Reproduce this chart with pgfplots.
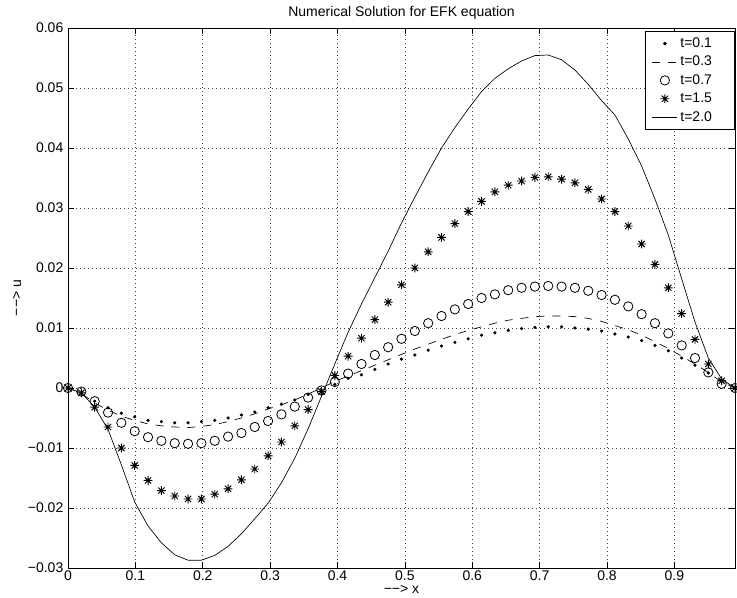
\documentclass[border=0pt]{standalone}
\usepackage{fontspec}
\setmainfont{Liberation Sans}
\usepackage{pgfplots}
\pgfplotsset{compat=1.18}
\usepackage{pgfplotstable}

\pgfdeclareplotmark{mstar}{%
 \pgfpathmoveto{\pgfqpoint{-\pgfplotmarksize}{0pt}}\pgfpathlineto{\pgfqpoint{\pgfplotmarksize}{0pt}}%
 \pgfpathmoveto{\pgfqpoint{0pt}{-\pgfplotmarksize}}\pgfpathlineto{\pgfqpoint{0pt}{\pgfplotmarksize}}%
 \pgfpathmoveto{\pgfqpoint{-0.7071\pgfplotmarksize}{-0.7071\pgfplotmarksize}}\pgfpathlineto{\pgfqpoint{0.7071\pgfplotmarksize}{0.7071\pgfplotmarksize}}%
 \pgfpathmoveto{\pgfqpoint{-0.7071\pgfplotmarksize}{0.7071\pgfplotmarksize}}\pgfpathlineto{\pgfqpoint{0.7071\pgfplotmarksize}{-0.7071\pgfplotmarksize}}%
 \pgfusepathqstroke}

\pgfplotstableread{
x a b c d e
0 0 0 0 0 0
0.0198 -0.0008 -0.0009 -0.0006 -0.0008 -0.0008
0.0396 -0.0022 -0.0025 -0.0022 -0.0032 -0.0032
0.0594 -0.0033 -0.0037 -0.0041 -0.0065 -0.0069
0.0792 -0.0042 -0.0047 -0.0058 -0.0100 -0.0128
0.099 -0.0048 -0.0054 -0.0072 -0.0129 -0.0190
0.1188 -0.0054 -0.0060 -0.0082 -0.0154 -0.0230
0.1386 -0.0056 -0.0063 -0.0088 -0.0171 -0.0258
0.1584 -0.0058 -0.0065 -0.0092 -0.0180 -0.0278
0.1782 -0.0058 -0.0066 -0.0093 -0.0185 -0.0287
0.198 -0.0056 -0.0064 -0.0092 -0.0185 -0.0287
0.2178 -0.0054 -0.0061 -0.0088 -0.0177 -0.0279
0.2376 -0.0050 -0.0056 -0.0081 -0.0168 -0.0264
0.2574 -0.0045 -0.0050 -0.0075 -0.0153 -0.0243
0.2772 -0.0040 -0.0043 -0.0065 -0.0135 -0.0218
0.297 -0.0033 -0.0035 -0.0055 -0.0113 -0.0192
0.3168 -0.0027 -0.0028 -0.0044 -0.0090 -0.0158
0.3366 -0.0020 -0.0020 -0.0031 -0.0063 -0.0117
0.3564 -0.0011 -0.0010 -0.0016 -0.0036 -0.0068
0.3762 -0.0004 0.0000 -0.0004 -0.0006 -0.0014
0.396 0.0006 0.0011 0.0010 0.0021 0.0040
0.4158 0.0016 0.0020 0.0024 0.0053 0.0093
0.4356 0.0022 0.0029 0.0040 0.0083 0.0140
0.4554 0.0031 0.0038 0.0055 0.0114 0.0184
0.4752 0.0040 0.0047 0.0068 0.0143 0.0228
0.495 0.0048 0.0056 0.0082 0.0172 0.0275
0.5148 0.0055 0.0065 0.0095 0.0200 0.0318
0.5346 0.0063 0.0073 0.0108 0.0227 0.0360
0.5544 0.0070 0.0081 0.0120 0.0251 0.0400
0.5742 0.0076 0.0089 0.0131 0.0274 0.0434
0.594 0.0082 0.0096 0.0140 0.0294 0.0465
0.6138 0.0088 0.0102 0.0150 0.0311 0.0494
0.6336 0.0092 0.0108 0.0156 0.0327 0.0516
0.6534 0.0096 0.0113 0.0163 0.0338 0.0532
0.6732 0.0099 0.0116 0.0167 0.0345 0.0545
0.693 0.0101 0.0119 0.0169 0.0351 0.0554
0.7128 0.0102 0.0120 0.0170 0.0352 0.0555
0.7326 0.0102 0.0120 0.0169 0.0348 0.0547
0.7524 0.0100 0.0119 0.0167 0.0342 0.0530
0.7722 0.0098 0.0116 0.0162 0.0331 0.0506
0.792 0.0095 0.0111 0.0155 0.0315 0.0479
0.8118 0.0090 0.0104 0.0147 0.0294 0.0455
0.8316 0.0085 0.0097 0.0136 0.0270 0.0415
0.8514 0.0079 0.0088 0.0123 0.0240 0.0370
0.8712 0.0071 0.0077 0.0108 0.0206 0.0315
0.891 0.0062 0.0066 0.0091 0.0167 0.0255
0.9108 0.0050 0.0053 0.0071 0.0124 0.0182
0.9306 0.0038 0.0040 0.0050 0.0081 0.0110
0.9504 0.0025 0.0026 0.0026 0.0040 0.0050
0.9702 0.0012 0.0010 0.0007 0.0012 0.0015
0.99 0 0 0 0 0
}\data

\begin{document}
\begin{tikzpicture}
\begin{axis}[
  scale only axis, width=500.25pt, height=405pt,
  xmin=0, xmax=0.99, ymin=-0.03, ymax=0.06,
  clip=false,
  scaled x ticks=false, scaled y ticks=false,
  xtick={0,0.1,0.2,0.3,0.4,0.5,0.6,0.7,0.8,0.9},
  xticklabels={0,0.1,0.2,0.3,0.4,0.5,0.6,0.7,0.8,0.9},
  ytick={-0.03,-0.02,-0.01,0,0.01,0.02,0.03,0.04,0.05,0.06},
  yticklabels={−0.03,−0.02,−0.01,0,0.01,0.02,0.03,0.04,0.05,0.06},
  tick align=inside, major tick length=4.5pt,
  grid=major,
  grid style={black!75, line width=0.45pt, dash pattern=on 0.6pt off 2.4pt},
  axis line style={line width=0.6pt},
  tick style={line width=0.5pt, black},
  ticklabel style={font=\fontsize{10.5}{12}\selectfont},
  xticklabel style={yshift=1.5pt},
  title={Numerical Solution for EFK equation},
  title style={font=\fontsize{10.5}{12}\selectfont, yshift=-3pt},
  xlabel={−−> x}, ylabel={−−> u},
  label style={font=\fontsize{10.5}{12}\selectfont},
  xlabel style={yshift=3pt},
  ylabel style={yshift=-2pt},
  legend style={at={(1,0.994)}, anchor=north east, draw=black, line width=0.6pt,
    font=\fontsize{10.5}{12}\selectfont, inner xsep=5pt, inner ysep=2.5pt, row sep=1pt},
  legend cell align=left,
  legend image code/.code={\draw[mark repeat=2,mark phase=2,#1] plot coordinates {(0cm,0cm) (0.33cm,0cm) (0.66cm,0cm)};},
]
\addplot[black, only marks, mark=*, mark size=1pt] table[x=x,y=a]{\data};
\addlegendentry{t=0.1\kern10pt\null}
\addplot[black, line width=0.5pt, dash pattern=on 6pt off 6pt] table[x=x,y=b]{\data};
\addlegendentry{t=0.3\kern10pt\null}
\addplot[black, only marks, mark=o, mark size=3.5pt, mark options={line width=0.6pt}] table[x=x,y=c]{\data};
\addlegendentry{t=0.7\kern10pt\null}
\addplot[black, only marks, mark=mstar, mark size=3.3pt, mark options={line width=0.7pt}] table[x=x,y=d]{\data};
\addlegendentry{t=1.5\kern10pt\null}
\addplot[black, line width=0.5pt] table[x=x,y=e]{\data};
\addlegendentry{t=2.0\kern10pt\null}
\coordinate (sw) at (rel axis cs:0,0);
\coordinate (ne) at (rel axis cs:1,1);
\end{axis}
\pgfresetboundingbox
\path[use as bounding box] ([xshift=-51pt,yshift=-22.5pt]sw) rectangle ([xshift=1.5pt,yshift=21pt]ne);
\end{tikzpicture}
\end{document}
